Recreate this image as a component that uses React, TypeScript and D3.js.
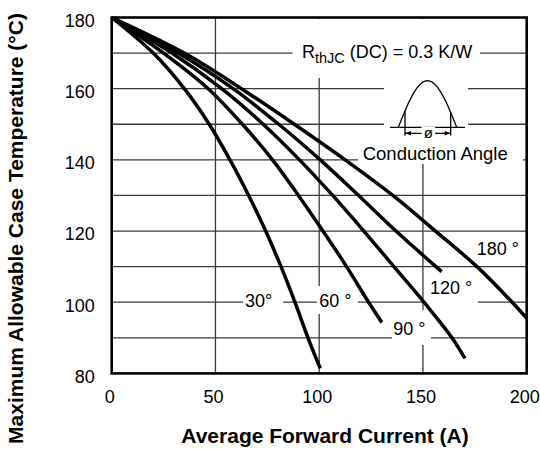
import * as d3 from "d3";
import { useEffect, useRef } from "react";

// ---- data ----
const xTickLabels = [0, 50, 100, 150, 200];
const yTickLabels = [80, 100, 120, 140, 160, 180];
const xGridValues = [50, 100, 150];
const yGridValues = [90, 100, 110, 120, 130, 140, 150, 160, 170];

// case temperature (°C) / average forward current (A) along each curve
const temp30 = [180, 170, 160, 150, 140, 130, 120, 110, 100, 90, 81.4];
const amps30 = [0, 20, 35, 47, 57, 66, 74.2, 81.6, 88.3, 94.6, 100.5];
const temp60 = [180, 170, 160, 150, 140, 130, 120, 110, 100, 94.3];
const amps60 = [0, 25, 46.5, 63, 77.5, 90, 101.8, 113.2, 123.8, 130.2];
const temp90 = [180, 170, 160, 150, 140, 130, 120, 110, 100, 90, 84.2];
const amps90 = [0, 29, 53, 73, 90.5, 106.5, 121.5, 136, 150.5, 164, 170.2];
const temp120 = [180, 170, 160, 150, 140, 130, 120, 108.6];
const amps120 = [0, 32, 58.5, 80.5, 100.5, 119, 137, 159];
const temp180 = [180, 170, 160, 150, 140, 130, 120, 110, 100, 95.5];
const amps180 = [0, 35, 62.5, 88, 112.5, 135.5, 156, 176, 193, 200];

const angleLabels = ["30°", "60 °", "90 °", "120 °", "180 °"];

const FONT = "'Liberation Sans', Arial, Helvetica, sans-serif";

export default function App() {
    const ref = useRef<SVGSVGElement | null>(null);

    useEffect(() => {
        // ---- 基本設定 ----
        const width = 540;
        const height = 449;

        const svg = d3.select(ref.current);
        svg.selectAll("*").remove();
        svg.attr("viewBox", `0 0 ${width} ${height}`);

        // ---- scales ----
        const x = d3.scaleLinear().domain([0, 200]).range([111.7, 526.7]);
        const y = d3.scaleLinear().domain([80, 180]).range([373.4, 17.5]);

        const series = [
            { amps: amps30, temp: temp30 },
            { amps: amps60, temp: temp60 },
            { amps: amps90, temp: temp90 },
            { amps: amps120, temp: temp120 },
            { amps: amps180, temp: temp180 },
        ];

        // ---- grid ----
        const grid = svg.append("g").attr("stroke", "#3a3a3a").attr("stroke-width", 1.3);
        grid.selectAll("line.h")
            .data(yGridValues)
            .join("line")
            .attr("class", "h")
            .attr("x1", x(0))
            .attr("x2", x(200))
            .attr("y1", (d) => y(d))
            .attr("y2", (d) => y(d));
        grid.selectAll("line.v")
            .data(xGridValues)
            .join("line")
            .attr("class", "v")
            .attr("x1", (d) => x(d))
            .attr("x2", (d) => x(d))
            .attr("y1", y(180))
            .attr("y2", y(80));

        // ---- white boxes behind the labels (grid gaps) ----
        const boxes = [
            [292.5, 19, 480, 78],   // R thJC label
            [384, 78, 468, 141],    // waveform icon
            [358, 141, 523, 164],   // Conduction Angle
            [243, 294, 283, 310],   // 30°
            [317, 286, 358, 314],   // 60°
            [425, 272, 478, 307],   // 120°
            [392, 310, 431, 345],   // 90°
        ];
        svg.append("g")
            .selectAll("rect")
            .data(boxes)
            .join("rect")
            .attr("x", (d) => d[0])
            .attr("y", (d) => d[1])
            .attr("width", (d) => d[2] - d[0])
            .attr("height", (d) => d[3] - d[1])
            .attr("fill", "#fff");

        // ---- frame ----
        svg.append("rect")
            .attr("x", x(0))
            .attr("y", y(180))
            .attr("width", x(200) - x(0))
            .attr("height", y(80) - y(180))
            .attr("fill", "none")
            .attr("stroke", "#000")
            .attr("stroke-width", 2.6);

        // ---- curves ----
        const line = d3
            .line<[number, number]>()
            .x((d) => x(d[0]))
            .y((d) => y(d[1]))
            .curve(d3.curveCatmullRom.alpha(0.5));

        svg.append("g")
            .selectAll("path")
            .data(series)
            .join("path")
            .attr("d", (s) => line(s.amps.map((a, i) => [a, s.temp[i]] as [number, number])))
            .attr("fill", "none")
            .attr("stroke", "#000")
            .attr("stroke-width", 3.5);

        // ---- tick labels ----
        svg.append("g")
            .selectAll("text")
            .data(yTickLabels)
            .join("text")
            .attr("x", 94.7)
            .attr("y", (d) => y(d) + 9.3)
            .attr("text-anchor", "end")
            .attr("font-family", FONT)
            .attr("font-size", 18)
            .text((d) => d);

        svg.append("g")
            .selectAll("text")
            .data(xTickLabels)
            .join("text")
            .attr("x", (d) => x(d) - 2)
            .attr("y", 403.3)
            .attr("text-anchor", "middle")
            .attr("font-family", FONT)
            .attr("font-size", 18)
            .text((d) => d);

        // ---- axis titles ----
        svg.append("text")
            .attr("x", 325)
            .attr("y", 443)
            .attr("text-anchor", "middle")
            .attr("font-family", FONT)
            .attr("font-size", 21)
            .attr("font-weight", 700)
            .text("Average Forward Current (A)");

        svg.append("text")
            .attr("transform", "translate(22.5,228.5) rotate(-90)")
            .attr("text-anchor", "middle")
            .attr("font-family", FONT)
            .attr("font-size", 21)
            .attr("font-weight", 700)
            .text("Maximum Allowable Case Temperature (°C)");

        // ---- curve labels ----
        const labelPos = [
            [245, 307.3],
            [319.3, 307.3],
            [393.3, 335],
            [430, 294],
            [476.7, 255],
        ];
        svg.append("g")
            .selectAll("text")
            .data(angleLabels)
            .join("text")
            .attr("x", (_, i) => labelPos[i][0])
            .attr("y", (_, i) => labelPos[i][1])
            .attr("font-family", FONT)
            .attr("font-size", 18)
            .text((d) => d);

        // ---- R thJC label ----
        const r = svg.append("text")
            .attr("x", 302)
            .attr("y", 57.5)
            .attr("font-family", FONT)
            .attr("font-size", 18);
        r.append("tspan").text("R");
        r.append("tspan").attr("font-size", 14.5).attr("dy", 5.5).text("thJC");
        r.append("tspan").attr("dy", -5.5).text(" (DC) = 0.3 K/W");

        svg.append("text")
            .attr("x", 362.7)
            .attr("y", 159.5)
            .attr("font-family", FONT)
            .attr("font-size", 18.5)
            .text("Conduction Angle");

        // ---- waveform icon ----
        const ic = svg.append("g").attr("stroke", "#000").attr("stroke-width", 1.3).attr("fill", "none");
        const x0 = 398.3, x1 = 456.7, base = 127.3, h = 46.6;
        const cutL = 405, cutR = 450.7;
        const bump = d3.range(0, 1.0001, 0.02).map((t) => [x0 + t * (x1 - x0), base - h * Math.sin(Math.PI * t)] as [number, number]);
        ic.append("path").attr("d", d3.line()(bump));
        ic.append("line").attr("x1", 390).attr("x2", 465).attr("y1", base).attr("y2", base);
        const cutY = (cx: number) => base - h * Math.sin(Math.PI * (cx - x0) / (x1 - x0));
        ic.append("line").attr("x1", cutL).attr("x2", cutL).attr("y1", cutY(cutL)).attr("y2", 135.5);
        ic.append("line").attr("x1", cutR).attr("x2", cutR).attr("y1", cutY(cutR)).attr("y2", 135.5);
        ic.append("line").attr("x1", cutL).attr("x2", cutR).attr("y1", 133.3).attr("y2", 133.3);
        ic.append("path").attr("fill", "#000").attr("stroke", "none")
            .attr("d", `M${cutL},133.3 l6,-2.2 v4.4 Z M${cutR},133.3 l-6,-2.2 v4.4 Z`);
        svg.append("rect").attr("x", 421.5).attr("y", 126.5).attr("width", 13.6).attr("height", 12).attr("fill", "#fff");
        svg.append("text")
            .attr("x", 428.3)
            .attr("y", 137.8)
            .attr("text-anchor", "middle")
            .attr("font-family", FONT)
            .attr("font-size", 15)
            .text("ø");
    }, []);

    return (
        <svg
            ref={ref}
            width={540}
            height={449}
            style={{ position: "absolute", left: 0, top: 0, background: "#fff" }}
        />
    );
}
